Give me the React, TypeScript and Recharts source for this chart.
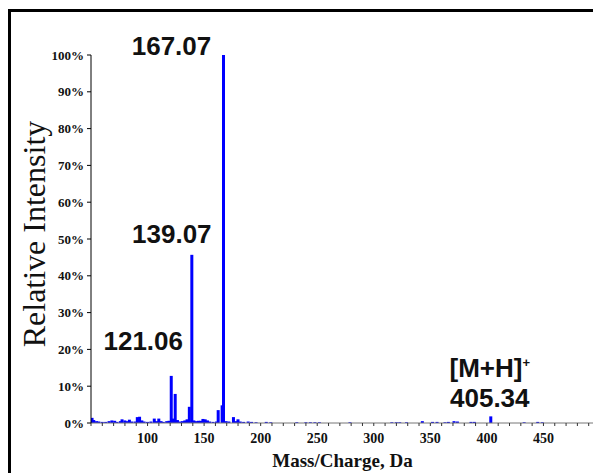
import React from 'react';
import { BarChart, Bar, XAxis, YAxis, LabelList } from 'recharts';

// peak positions (m/z) and relative intensities (%)
const mz = [
  51, 52.5, 55, 57, 60, 63, 66, 68.5, 71, 73, 76, 77.5, 80, 82, 84, 86, 89, 91, 93, 95, 97,
  100, 103, 106, 108, 110, 112, 114, 117, 119, 121, 123, 124.5, 126.5, 129, 131, 133, 135, 137,
  139.2, 141, 143, 145, 147, 149, 151, 153, 155, 158, 161, 162.5, 166, 167.2, 169.5, 172, 176,
  178, 180, 182, 185, 189, 192, 196, 205, 209, 232, 240, 244, 248, 252, 279, 316, 320, 323, 329,
  343, 352, 356, 363, 366, 371, 374, 386, 389, 403.5, 433, 445, 449,
];
const intensity = [
  1.4, 0.8, 0.5, 0.4, 0.3, 0.3, 0.5, 0.7, 0.6, 0.3, 0.5, 1.0, 0.7, 0.5, 0.9, 0.4, 0.4, 1.6, 1.7, 0.7, 0.4,
  0.3, 0.4, 1.2, 0.5, 1.2, 0.5, 0.3, 0.5, 0.6, 12.8, 1.2, 7.9, 0.8, 0.4, 0.5, 0.7, 1.0, 4.4,
  45.7, 0.7, 0.5, 0.6, 0.6, 1.1, 1.0, 0.7, 0.4, 0.3, 0.4, 3.5, 4.8, 100, 0.5, 0.4, 1.6,
  0.5, 1.0, 0.4, 0.3, 0.4, 0.3, 0.2, 0.3, 0.2, 0.2, 0.2, 0.2, 0.2, 0.2, 0.2, 0.2, 0.2, 0.2, 0.2,
  0.5, 0.3, 0.3, 0.2, 0.3, 0.5, 0.4, 0.3, 0.3, 1.8, 0.2, 0.3, 0.2,
];

// annotated peaks
const labelPeaks = [167.2, 139.2, 121, 403.5];
const labelTexts = ['167.07', '139.07', '121.06', '405.34'];

const xTicks = Array.from({ length: 46 }, (_, i) => 50 + i * 10);
const xTickLabels = [100, 150, 200, 250, 300, 350, 400, 450];
const yTicks = [0, 10, 20, 30, 40, 50, 60, 70, 80, 90, 100];

const data = mz.map((m, i) => {
  const k = labelPeaks.indexOf(m);
  return { mz: m, intensity: intensity[i], label: k >= 0 ? labelTexts[k] : undefined };
});

const serif = '"Liberation Serif", "Times New Roman", serif';
const sans = '"Liberation Sans", Arial, sans-serif';

// label placement relative to the top of its peak
const labelOffset: Record<string, [number, number]> = {
  '167.07': [-52, 0],
  '139.07': [-20, -12],
  '121.06': [-28, -26],
  '405.34': [-1, -9],
};

const XTick = (props: any) => {
  const { x, y, payload } = props;
  const v = payload.value;
  if (!xTickLabels.includes(v)) return <g />;
  return (
    <text x={x} y={y + 15} textAnchor="middle" fontFamily={serif} fontWeight="bold" fontSize={14} fill="#111">
      {v}
    </text>
  );
};

// stick of fixed width, centred on the m/z value
const Stick = (props: any) => {
  const { x, y, width, height } = props;
  if (!height || height <= 0) return <g />;
  const cx = x + width / 2;
  return <rect x={cx - 1.5} y={y} width={3} height={height} fill="#0000ff" />;
};

const PeakLabel = (props: any) => {
  const { x, y, width, value } = props;
  if (!value) return null;
  const [dx, dy] = labelOffset[value] || [0, 0];
  const cx = x + width / 2 + dx;
  const base = y + dy;
  const style = { fontFamily: sans, fontWeight: 'bold' as const, fontSize: 26, fill: '#111' };
  if (value === '405.34') {
    return (
      <g>
        <text x={cx} y={base - 30} textAnchor="middle" {...style}>
          [M+H]<tspan dy={-10} fontSize={13}>+</tspan>
        </text>
        <text x={cx} y={base} textAnchor="middle" {...style}>{value}</text>
      </g>
    );
  }
  return <text x={cx} y={base} textAnchor="middle" {...style}>{value}</text>;
};

export default function App() {
  return (
    <div style={{ position: 'fixed', left: 8, top: 8, right: 0, bottom: 0, overflow: 'hidden', background: '#fff' }}>
      <div style={{ position: 'absolute', left: 0, top: 1, width: 640, height: 520, borderLeft: '3px solid #000', borderTop: '3px solid #000' }}>
        <BarChart width={630} height={480} data={data} margin={{ top: 43, right: 41, left: 0, bottom: 0 }}>
          <XAxis
            dataKey="mz"
            type="number"
            domain={[50, 500]}
            ticks={xTicks}
            interval={0}
            allowDataOverflow
            height={69}
            tickSize={3}
            tickMargin={2}
            tick={XTick}
            tickLine={{ stroke: '#333' }}
            axisLine={{ stroke: '#777' }}
            label={{
              content: (p: any) => {
                const vb = p.viewBox;
                return (
                  <text x={vb.x + vb.width / 2 - 3} y={vb.y + 44} textAnchor="middle" fontFamily={serif} fontWeight="bold" fontSize={19} fill="#111">
                    Mass/Charge, Da
                  </text>
                );
              },
            }}
          />
          <YAxis
            type="number"
            domain={[0, 100]}
            ticks={yTicks}
            width={80}
            tickSize={4}
            tickMargin={3}
            tickFormatter={(v: number) => `${v}%`}
            tick={{ fill: '#111', fontSize: 13, fontFamily: serif, fontWeight: 'bold' }}
            tickLine={{ stroke: '#000' }}
            axisLine={{ stroke: '#000' }}
            label={{
              content: (p: any) => {
                const vb = p.viewBox;
                const cx = vb.x + 23;
                const cy = vb.y + vb.height / 2 - 5;
                return (
                  <text x={cx} y={cy} textAnchor="middle" dominantBaseline="central" transform={`rotate(-90 ${cx} ${cy})`} fontFamily={serif} fontSize={32} fill="#111">
                    Relative Intensity
                  </text>
                );
              },
            }}
          />
          <Bar dataKey="intensity" fill="#0000ff" barSize={3} shape={Stick} isAnimationActive={false}>
            <LabelList dataKey="label" content={PeakLabel} />
          </Bar>
        </BarChart>
      </div>
    </div>
  );
}
